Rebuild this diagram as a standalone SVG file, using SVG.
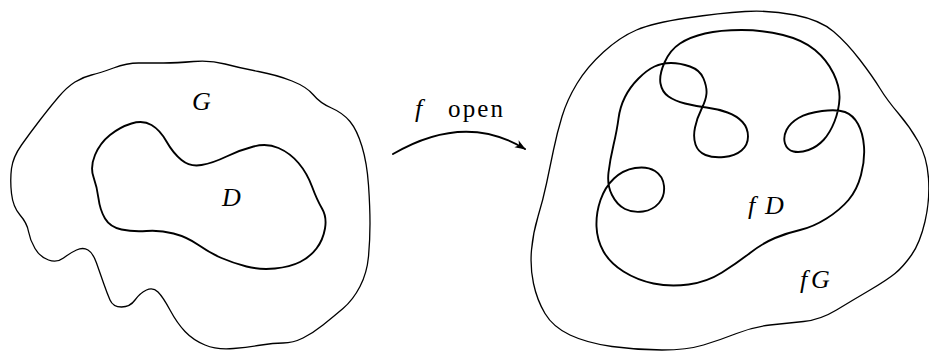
<svg xmlns="http://www.w3.org/2000/svg" width="929" height="352" viewBox="0 0 929 352">
<style>
.c{fill:none;stroke:#000;stroke-linejoin:round;stroke-linecap:round}
.thin{stroke-width:1.3}
.bold{stroke-width:1.9}
.lbl{font-family:"Liberation Serif","DejaVu Serif",serif;font-style:italic;font-size:26px;fill:#000}
.rm{font-family:"Liberation Serif","DejaVu Serif",serif;font-size:25px;fill:#000}
</style>
<defs>
<marker id="ah" markerWidth="12" markerHeight="10" refX="10" refY="5" orient="auto" markerUnits="userSpaceOnUse">
<path d="M0,1 L11,5 L0,9 L3,5 Z" fill="#000"/>
</marker>
</defs>
<g id="G">
<path class="c thin" d="M11.5,193.5 Q10,180 11.5,168.5 Q13,157 21.5,145 Q30,133 40,120 Q50,107 58.5,97 Q67,87 75,82 Q83,77 91.5,75 Q100,73 113.5,68 Q127,63 138.5,63 Q150,63 163.5,63 Q177,63 193.5,61.5 Q210,60 225,64 Q240,68 258.5,71.5 Q277,75 292,81 Q307,87 313.5,95 Q320,103 331.5,108 Q343,113 350,121.5 Q357,130 362,146.5 Q367,163 368.5,185 Q370,207 370,223.5 Q370,240 368.5,256.5 Q367,273 360,286.5 Q353,300 343,308.5 Q333,317 323,325 Q313,333 303,338 Q293,343 283,343 Q273,343 261.5,345 Q250,347 233.5,348.5 Q217,350 205,345 Q193,340 185,331.5 Q177,323 170,310 Q163,297 158,292 Q153,287 146.5,290 Q140,293 135,300 Q130,307 121.5,307 Q113,307 110,300 Q107,293 103.5,283 Q100,273 96.5,263 Q93,253 88,250 Q83,247 76.5,250 Q70,253 63.5,258 Q57,263 48.5,260 Q40,257 35,248.5 Q30,240 28.5,231.5 Q27,223 20,215 Q13,207 11.5,193.5 Z"/>
<text class="lbl" x="192" y="110">G</text>
</g>
<g id="D">
<path class="c bold" d="M93.5,177 Q90,167 95,155 Q100,143 110,135 Q120,127 131.5,123.5 Q143,120 151.5,125 Q160,130 166.5,141.5 Q173,153 181.5,160 Q190,167 201.5,165 Q213,163 226.5,156.5 Q240,150 253.5,146.5 Q267,143 278.5,148 Q290,153 298.5,163 Q307,173 312,186.5 Q317,200 322,208.5 Q327,217 325,228.5 Q323,240 316.5,248.5 Q310,257 300,262 Q290,267 275,268.5 Q260,270 246.5,266.5 Q233,263 221.5,258 Q210,253 198.5,245 Q187,237 173.5,233.5 Q160,230 146.5,231 Q133,232 121.5,229.5 Q110,227 105,218.5 Q100,210 98.5,198.5 Q97,187 93.5,177 Z"/>
<text class="lbl" x="222" y="206">D</text>
</g>
<g id="fG">
<path class="c thin" d="M603.5,52 Q620,37 636.5,30 Q653,23 686.5,18 Q720,13 745,11.5 Q770,10 795,15 Q820,20 833.5,31.5 Q847,43 860,60 Q873,77 880,88.5 Q887,100 898.5,113.5 Q910,127 918.5,142 Q927,157 928.5,178.5 Q930,200 925,221.5 Q920,243 911.5,255 Q903,267 895,273.5 Q887,280 870,290 Q853,300 836.5,310 Q820,320 803.5,321.5 Q787,323 770,325 Q753,327 736.5,333.5 Q720,340 703.5,345 Q687,350 662,350 Q637,350 612,346.5 Q587,343 570,335 Q553,327 545,313.5 Q537,300 533.5,283.5 Q530,267 531.5,250 Q533,233 538,216.5 Q543,200 546.5,183.5 Q550,167 553.5,150 Q557,133 562,116.5 Q567,100 577,83.5 Q587,67 603.5,52 Z"/>
<text class="lbl" x="800" y="288">f<tspan x="811">G</tspan></text>
</g>
<g id="fD">
<path class="c bold" d="M603.5,251.5 Q597,240 596.5,226.5 Q596,213 600.5,200 Q605,187 614,178.5 Q623,170 635,168 Q647,166 655,171 Q663,176 664,186 Q665,196 659,203 Q653,210 643,211.5 Q633,213 625,209 Q617,205 612,195 Q607,185 608.5,172.5 Q610,160 613.5,145 Q617,130 618.5,118.5 Q620,107 625,97 Q630,87 638.5,78.5 Q647,70 654.5,66.5 Q662,63 671,63 Q680,63 690,66.5 Q700,70 703.5,78.5 Q707,87 706.5,93.5 Q706,100 701.5,109 Q697,118 695,127.5 Q693,137 695.5,144.5 Q698,152 705.5,155 Q713,158 724,157 Q735,156 741.5,150.5 Q748,145 748,136.5 Q748,128 742.5,122 Q737,116 727.5,112.5 Q718,109 706.5,107.5 Q695,106 685,103.5 Q675,101 668.5,96.5 Q662,92 660.5,83.5 Q659,75 664.5,62.5 Q670,50 680,43.5 Q690,37 705,33.5 Q720,30 741.5,30 Q763,30 783,35 Q803,40 815,50 Q827,60 833.5,73.5 Q840,87 839.5,98.5 Q839,110 834.5,121.5 Q830,133 823.5,140 Q817,147 808.5,150 Q800,153 793.5,151.5 Q787,150 785,143.5 Q783,137 786.5,130 Q790,123 798.5,118 Q807,113 822,111 Q837,109 845,112 Q853,115 858,124 Q863,133 864,146.5 Q865,160 861,175 Q857,190 848.5,200 Q840,210 826.5,218.5 Q813,227 800,230 Q787,233 775,238 Q763,243 750,253 Q737,263 722,272.5 Q707,282 688.5,284.5 Q670,287 653.5,283.5 Q637,280 623.5,271.5 Q610,263 603.5,251.5 Z"/>
<text class="lbl" x="748" y="214">f<tspan x="765">D</tspan></text>
</g>
<g id="connectors">
<path class="c bold" d="M393,154 Q465,112 525,149" marker-end="url(#ah)"/>
<text class="lbl" x="415" y="117">f</text>
<text class="rm" x="448" y="117" textLength="55" lengthAdjust="spacing">open</text>
</g>
</svg>
